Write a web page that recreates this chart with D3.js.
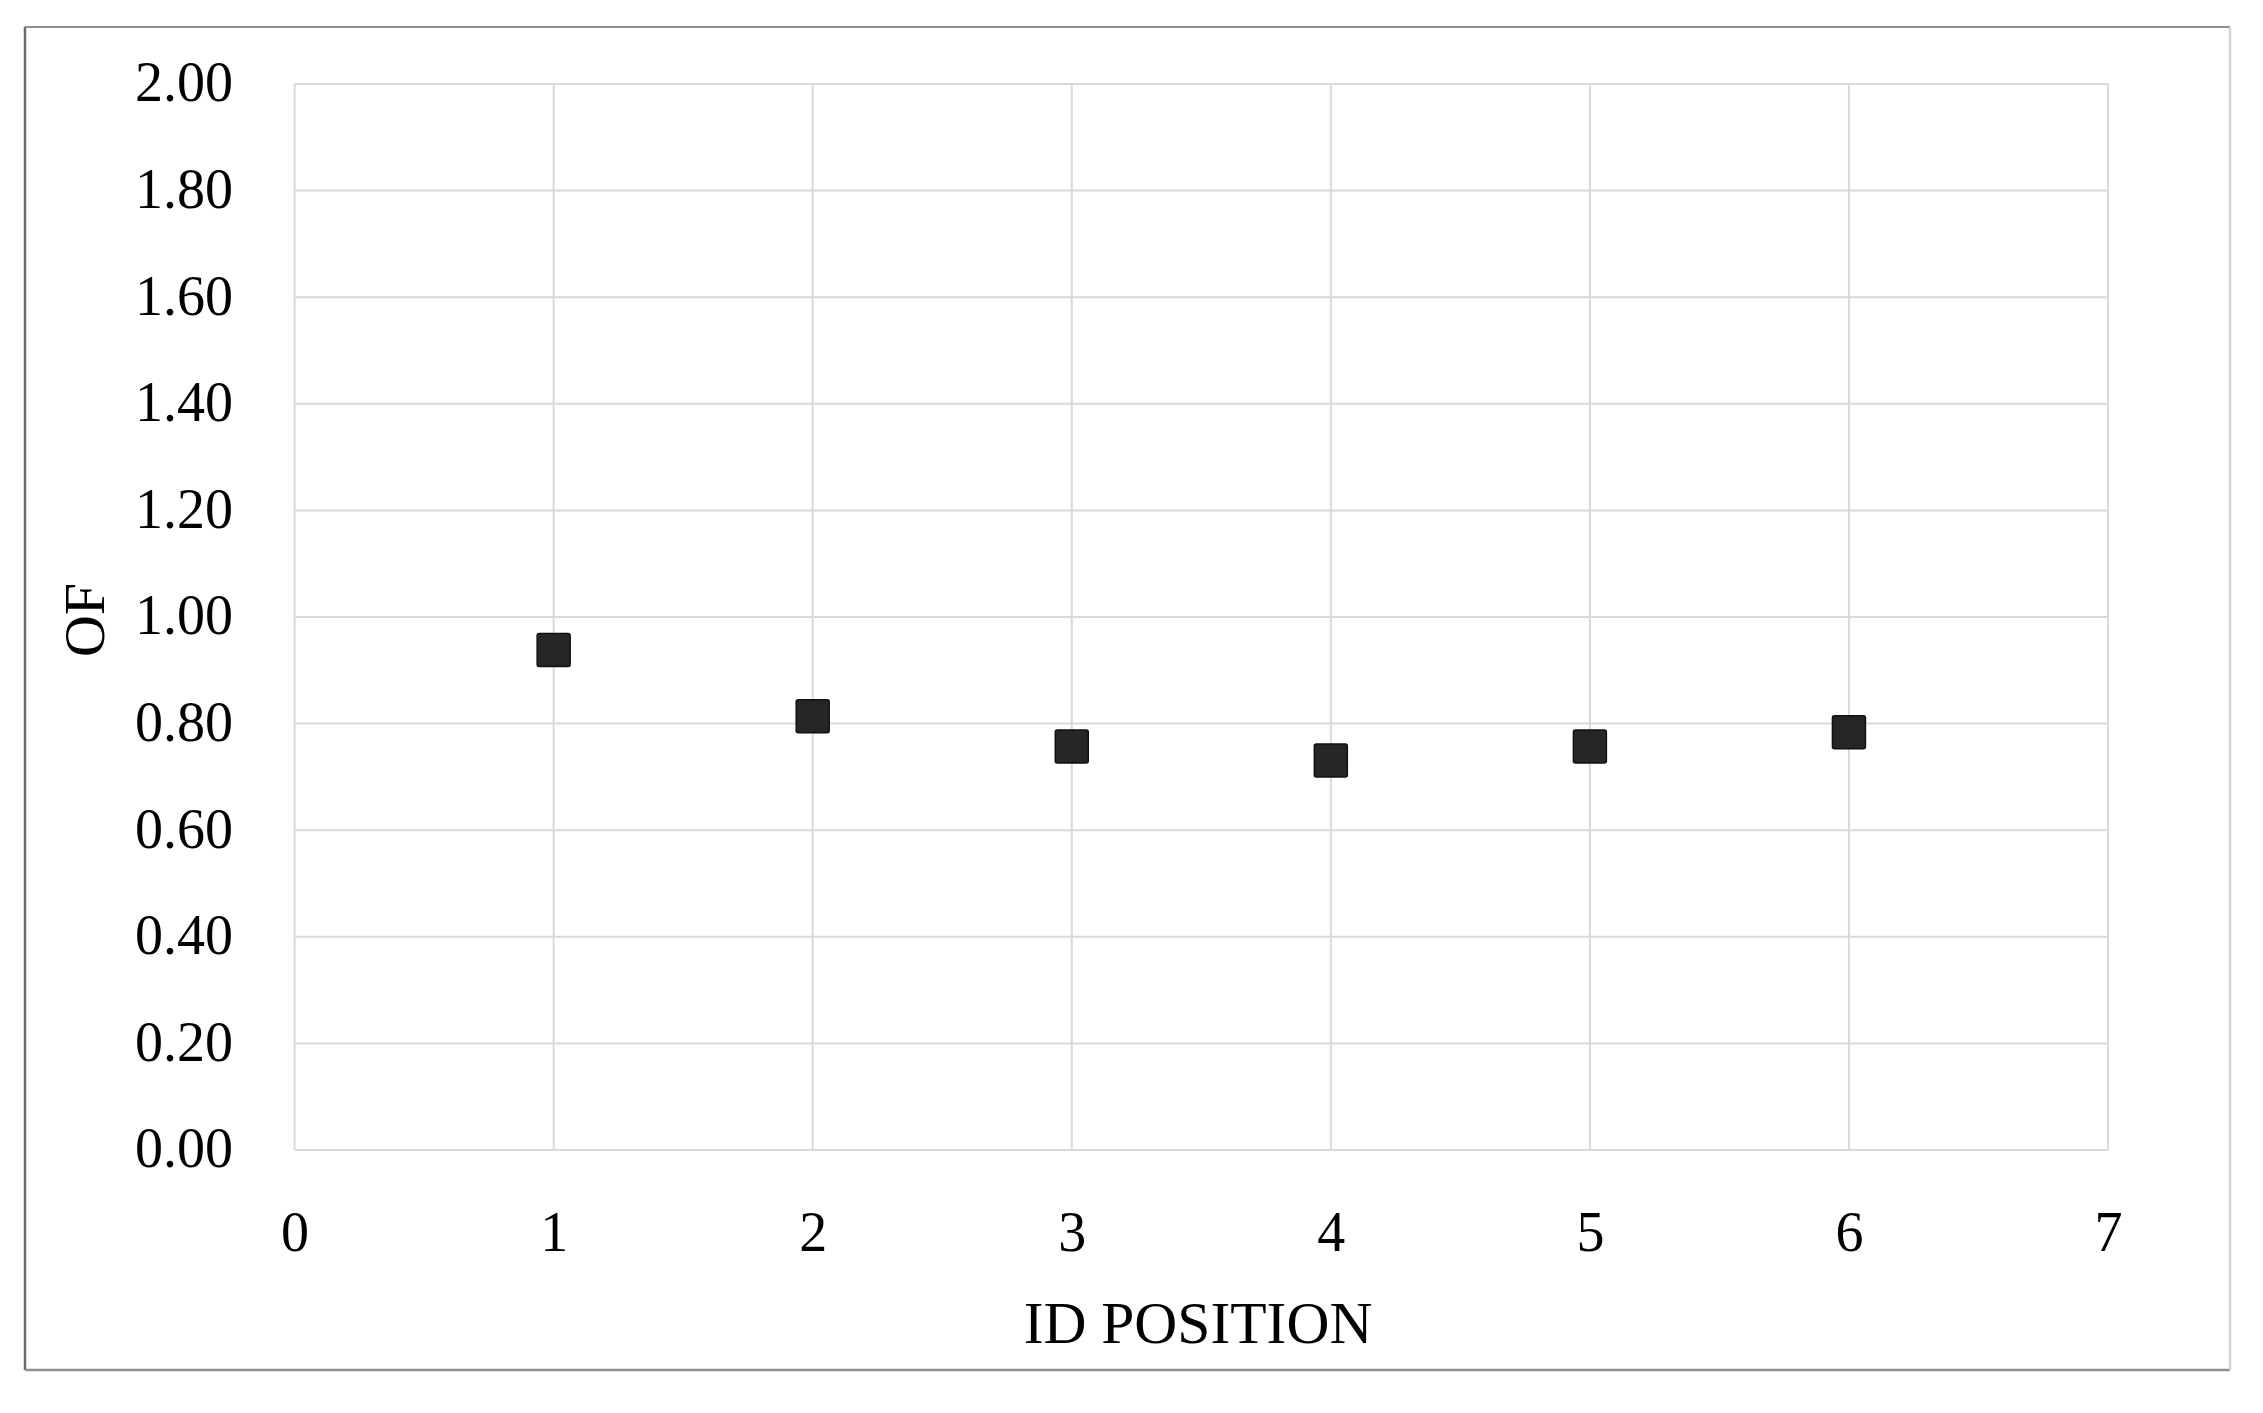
<!DOCTYPE html>
<html>
<head>
<meta charset="utf-8">
<script src="https://cdn.jsdelivr.net/npm/d3@7"></script>
<style>
  html, body { margin: 0; padding: 0; background: #ffffff; }
  svg { display: block; }
  text { font-family: "Liberation Serif", "DejaVu Serif", serif; fill: #000; }
</style>
</head>
<body>
<script>
// ---- data ----
const idPositions = [1, 2, 3, 4, 5, 6];
const ofValues = [0.938, 0.814, 0.757, 0.731, 0.757, 0.784];
const xTicks = [0, 1, 2, 3, 4, 5, 6, 7];
const yTicks = [0, 0.2, 0.4, 0.6, 0.8, 1.0, 1.2, 1.4, 1.6, 1.8, 2.0];
const xTitle = "ID POSITION";
const yTitle = "OF";

// ---- layout ----
const W = 2263, H = 1413;
const plot = { left: 294.6, right: 2108, top: 84, bottom: 1150 };

const svg = d3.select("body").append("svg").attr("width", W).attr("height", H);

const x = d3.scaleLinear().domain([0, 7]).range([plot.left, plot.right]);
const y = d3.scaleLinear().domain([0, 2]).range([plot.bottom, plot.top]);

// outer frame
const frame = { l: 25, t: 27, r: 2230, b: 1370 };
svg.append("line").attr("x1", frame.l).attr("y1", frame.t).attr("x2", frame.r).attr("y2", frame.t)
  .attr("stroke", "#8f8f8f").attr("stroke-width", 2);
svg.append("line").attr("x1", frame.l).attr("y1", frame.t).attr("x2", frame.l).attr("y2", frame.b)
  .attr("stroke", "#6b6b6b").attr("stroke-width", 2.5);
svg.append("line").attr("x1", frame.l).attr("y1", frame.b).attr("x2", frame.r).attr("y2", frame.b)
  .attr("stroke", "#8f8f8f").attr("stroke-width", 2.5);
svg.append("line").attr("x1", frame.r).attr("y1", frame.t).attr("x2", frame.r).attr("y2", frame.b)
  .attr("stroke", "#d4d4d4").attr("stroke-width", 2.5);

// gridlines
const grid = svg.append("g");
grid.selectAll("line.h").data(yTicks).join("line").attr("class", "h")
  .attr("x1", plot.left).attr("x2", plot.right)
  .attr("y1", d => y(d)).attr("y2", d => y(d))
  .attr("stroke", "#d9d9d9").attr("stroke-width", 2);
grid.selectAll("line.v").data(xTicks).join("line").attr("class", "v")
  .attr("y1", plot.top).attr("y2", plot.bottom)
  .attr("x1", d => x(d)).attr("x2", d => x(d))
  .attr("stroke", "#d9d9d9").attr("stroke-width", 2);

// y axis labels
const yAxis = d3.axisLeft(y).tickValues(yTicks).tickFormat(d3.format(".2f")).tickSize(0).tickPadding(0);
const gy = svg.append("g").attr("transform", `translate(${233},0)`).call(yAxis);
gy.select(".domain").remove();
gy.selectAll("text").attr("font-size", 56).attr("font-family", "Liberation Serif")
  .attr("fill", "#000").attr("dy", "0.3em").attr("x", 0);

// x axis labels
const xAxis = d3.axisBottom(x).tickValues(xTicks).tickFormat(d3.format("d")).tickSize(0).tickPadding(0);
const gx = svg.append("g").attr("transform", `translate(0,${1251})`).call(xAxis);
gx.select(".domain").remove();
gx.selectAll("text").attr("font-size", 56).attr("font-family", "Liberation Serif")
  .attr("fill", "#000").attr("dy", 0).attr("y", 0);

// axis titles
svg.append("text").attr("x", 1198).attr("y", 1343).attr("text-anchor", "middle")
  .attr("font-size", 59.5).text(xTitle);
svg.append("text").attr("transform", `translate(104,620) rotate(-90)`).attr("text-anchor", "middle")
  .attr("font-size", 58).text(yTitle);

// markers
const s = 33;
svg.append("g").selectAll("rect").data(idPositions).join("rect")
  .attr("x", (d) => x(d) - s / 2)
  .attr("y", (d, i) => y(ofValues[i]) - s / 2)
  .attr("width", s).attr("height", s).attr("rx", 2)
  .attr("fill", "#262626").attr("stroke", "#111").attr("stroke-width", 1.5);
</script>
</body>
</html>
